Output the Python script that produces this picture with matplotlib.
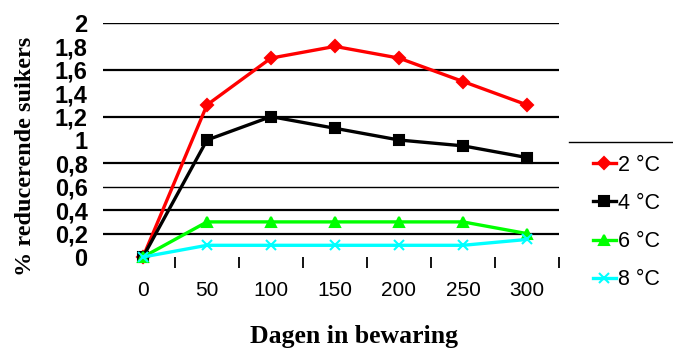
import matplotlib.pyplot as plt
from matplotlib.lines import Line2D

# data
days = ['0', '50', '100', '150', '200', '250', '300']
t2 = [0, 1.3, 1.7, 1.8, 1.7, 1.5, 1.3]
t4 = [0, 1.0, 1.2, 1.1, 1.0, 0.95, 0.85]
t6 = [0, 0.3, 0.3, 0.3, 0.3, 0.3, 0.2]
t8 = [0, 0.1, 0.1, 0.1, 0.1, 0.1, 0.15]
labels = ['2 °C', '4 °C', '6 °C', '8 °C']
yticks = [0, 0.2, 0.4, 0.6, 0.8, 1, 1.2, 1.4, 1.6, 1.8, 2]
ytick_labels = ['0', '0,2', '0,4', '0,6', '0,8', '1', '1,2', '1,4', '1,6', '1,8', '2']
grid_vals = [0.2, 0.4, 0.6, 0.8, 1.2, 1.6, 2]

fig = plt.figure(figsize=(6.73, 3.53), dpi=100)
ax = fig.add_axes([103 / 673, 1 - 257 / 353, (559 - 103) / 673, (257 - 23) / 353])

for v in grid_vals:
    lw = 1.0 if v in (2, 0.6) else 1.6
    ax.axhline(v, color='black', linewidth=lw, zorder=1)

x = list(range(len(days)))
styles = [(t2, '#ff0000', 'D', 6), (t4, '#000000', 's', 7.5),
          (t6, '#00ff00', '^', 7.5), (t8, '#00ffff', 'x', 7)]
handles = []
for (vals, col, mk, ms), lab in zip(styles, labels):
    h, = ax.plot(x, vals, color=col, marker=mk, markersize=ms, linewidth=2.4,
                 markeredgewidth=1.5, label=lab, clip_on=False, zorder=3)
    handles.append(h)

ax.set_xlim(-0.625, 6.5)
ax.set_ylim(0, 2)
for s in ax.spines.values():
    s.set_visible(False)

ax.set_xticks(x)
ax.set_xticklabels(days, fontsize=15, family='Liberation Sans')
ax.tick_params(axis='x', which='major', length=0, pad=17)
ax.set_xticks([i + 0.5 for i in range(len(days))], minor=True)
ax.tick_params(axis='x', which='minor', length=8, width=1.3, direction='out', color='black')

ax.set_yticks(yticks)
ax.set_yticklabels(ytick_labels, fontsize=17, fontweight='bold', family='Liberation Sans')
ax.tick_params(axis='y', length=0, pad=11)

ax.set_ylabel('% reducerende suikers', fontsize=17.5, fontweight='bold',
              family='Liberation Serif')
ax.yaxis.set_label_coords(-0.148, 0.43)
ax.set_xlabel('Dagen in bewaring', fontsize=18.5, fontweight='bold',
              family='Liberation Serif')
ax.xaxis.set_label_coords(0.55, -0.29)

fig.legend(handles=handles, loc='upper left', bbox_to_anchor=(584 / 673, 1 - 146 / 353),
           frameon=False, prop={'family': 'Liberation Sans', 'size': 15.5},
           handlelength=1.1, handletextpad=0.1, labelspacing=0.8, borderaxespad=0)

fig.add_artist(Line2D([569 / 673, 1], [1 - 142 / 353, 1 - 142 / 353],
                      transform=fig.transFigure, color='black', linewidth=1))

fig.savefig('out.png', dpi=100)
